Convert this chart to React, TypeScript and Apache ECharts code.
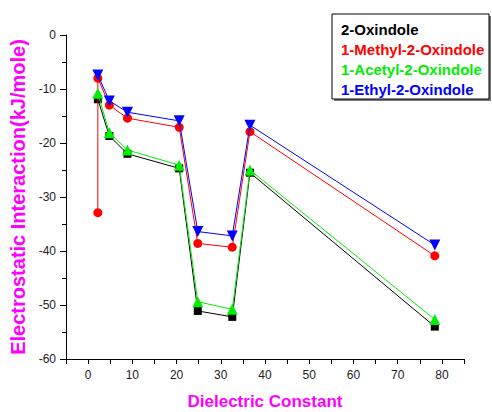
import React, { useEffect, useRef } from "react";
import * as echarts from "echarts";

const dielectric = [2.2, 2.2, 4.8, 8.9, 20.6, 24.8, 32.6, 36.6, 78.4];
const oxindole = [null, -11.9, -18.7, -22.0, -24.7, -51.1, -52.2, -25.5, -54.0];
const methylOxindole = [-32.9, -8.0, -13.0, -15.4, -17.1, -38.6, -39.3, -17.9, -40.9];
const acetylOxindole = [null, -10.8, -18.1, -21.3, -24.1, -49.4, -50.8, -25.0, -52.7];
const ethylOxindole = [null, -7.4, -12.2, -14.3, -15.9, -36.4, -37.2, -16.7, -38.9];
const seriesNames = ["2-Oxindole", "1-Methyl-2-Oxindole", "1-Acetyl-2-Oxindole", "1-Ethyl-2-Oxindole"];
const seriesColors = ["#000000", "#ff0000", "#00ee00", "#0000ff"];

const pair = (ys: (number | null)[]) =>
  dielectric.map((x, i) => [x, ys[i]]).filter((p) => p[1] !== null);

export default function App() {
  const ref = useRef<HTMLDivElement>(null);
  useEffect(() => {
    const chart = echarts.init(ref.current!, undefined, { renderer: "svg" });
    const font = "Arial, 'Liberation Sans', sans-serif";
    const mk = (i: number, ys: (number | null)[], symbol: string, size: number, rot = 0) => ({
      name: seriesNames[i],
      type: "line",
      data: pair(ys),
      symbol,
      symbolSize: size,
      symbolRotate: rot,
      showAllSymbol: true,
      lineStyle: { color: seriesColors[i], width: 1 },
      itemStyle: { color: seriesColors[i] },
      z: 2 + i,
    });
    chart.setOption({
      animation: false,
      backgroundColor: "#ffffff",
      grid: { left: 66, top: 35, right: 28, bottom: 53, containLabel: false, outerBoundsMode: "none" },
      xAxis: {
        type: "value",
        min: -5,
        max: 85,
        interval: 5,
        name: "Dielectric Constant",
        nameLocation: "middle",
        nameGap: 34,
        nameTextStyle: { color: "#ff00ff", fontSize: 17, fontWeight: "bold", fontFamily: font },
        axisLine: { onZero: false, lineStyle: { color: "#000", width: 1 } },
        axisTick: { length: 5, lineStyle: { color: "#000" } },
        axisLabel: {
          color: "#222",
          fontSize: 12,
          fontFamily: font,
          margin: 10,
          formatter: (v: number) => (v % 10 === 0 ? String(v) : ""),
        },
        splitLine: { show: false },
      },
      yAxis: {
        type: "value",
        min: -60,
        max: 0,
        interval: 10,
        name: "Electrostatic Interaction(kJ/mole)",
        nameLocation: "middle",
        nameGap: 36,
        nameTextStyle: { color: "#ff00ff", fontSize: 20, fontWeight: "bold", fontFamily: font },
        axisLine: { onZero: false, lineStyle: { color: "#000", width: 1 } },
        axisTick: { length: 6, lineStyle: { color: "#000" } },
        minorTick: { show: true, splitNumber: 2, length: 4, lineStyle: { color: "#000" } },
        axisLabel: { color: "#222", fontSize: 12, fontFamily: font, margin: 10 },
        splitLine: { show: false },
      },
      series: [
        mk(0, oxindole, "rect", 8),
        mk(1, methylOxindole, "circle", 9),
        mk(2, acetylOxindole, "triangle", 11),
        mk(3, ethylOxindole, "triangle", 11, 180),
      ],
      graphic: [
        { type: "rect", shape: { x: 334, y: 16, width: 157, height: 85 }, style: { fill: "#777" }, z: 10 },
        { type: "rect", shape: { x: 332, y: 14, width: 157, height: 85 }, style: { fill: "#fff", stroke: "#000", lineWidth: 1 }, z: 11 },
        ...seriesNames.map((n, i) => ({
          type: "text",
          x: 341,
          y: 29 + i * 20,
          z: 12,
          style: {
            text: n,
            fill: seriesColors[i],
            font: `bold 15px ${font}`,
            textVerticalAlign: "middle",
          },
        })),
      ],
    });
    return () => chart.dispose();
  }, []);
  return <div ref={ref} style={{ width: 492, height: 412, position: "absolute", left: 0, top: 0 }} />;
}
